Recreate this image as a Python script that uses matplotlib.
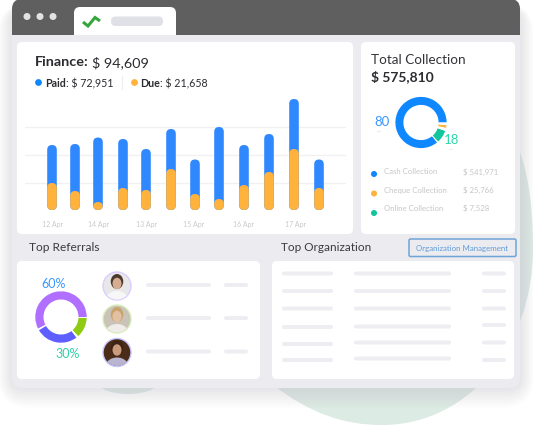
import matplotlib
matplotlib.use("Agg")
import matplotlib.pyplot as plt
from matplotlib.patches import FancyBboxPatch, Circle, PathPatch, Ellipse, Rectangle
from matplotlib.path import Path

plt.rcParams['font.family'] = ['Lato', 'DejaVu Sans']

W, H = 533, 427

# ---- data ----
bar_total = [65, 66, 72.5, 71, 61, 81, 50.5, 83, 65, 76, 111, 50.5]
bar_due = [27, 19, 8, 22, 20, 41, 16, 11, 25, 38, 61, 22]
tick_labels = ['12 Apr', '14 Apr', '13 Apr', '15 Apr', '16 Apr', '17 Apr']
collection_values = [309, 3, 29, 7, 6, 6]
referral_values = [207, 4, 96, 5, 46, 2]
collection_rows = ['Cash Collection', 'Cheque Collection', 'Online Collection']
collection_amounts = ['$ 541,971', '$ 25,766', '$ 7,528']

# ---- layout ----
bar_x = [52, 75, 98, 123, 146, 171, 195, 219, 244, 269, 294, 319]
tick_x = [53, 98.5, 147, 194, 244, 296]

BLUE = '#3088ff'
DBLUE = '#0f88ff'
ORANGE = '#ffb23c'
TEAL = '#12c59b'
DARK = '#2b2b30'

fig = plt.figure(figsize=(W / 100, H / 100), dpi=100, facecolor='white')
bg = fig.add_axes([0, 0, 1, 1])
bg.set_xlim(0, W)
bg.set_ylim(H, 0)
bg.axis('off')


def rrect(ax, x0, y0, x1, y1, r, fc, ec='none', lw=0, alpha=None, z=2):
    p = FancyBboxPatch((x0, y0), x1 - x0, y1 - y0,
                       boxstyle=f'round,pad=0,rounding_size={r}',
                       fc=fc, ec=ec, lw=lw, alpha=alpha, zorder=z)
    ax.add_patch(p)
    return p


# green blob behind window
V = [(272, 385), (310, 415), (345, 426), (382, 426),
     (470, 426), (533, 345), (533, 250),
     (533, 205), (528, 170), (515, 140), (272, 140), (272, 385)]
C = [Path.MOVETO] + [Path.CURVE4] * 9 + [Path.LINETO, Path.CLOSEPOLY]
bg.add_patch(PathPatch(Path(V, C), fc='#dcebe3', ec='none', zorder=0))
bg.add_patch(Ellipse((128, 380), 66, 30, fc='#dcebe3', ec='none', zorder=0))

# soft shadow
for i in range(12):
    g = 20 - i * 1.6
    rrect(bg, 12 - g * 0.7, 10 - g * 0.3, 520 + g * 0.7, 389 + g, 12 + g, '#8a8a9a', alpha=0.012, z=1)

# window
rrect(bg, 12, 0, 520, 389, 10, '#ecebf0', z=2)
rrect(bg, 12, 0, 520, 30, 10, '#5f5f5f', z=3)
bg.add_patch(Rectangle((12, 15), 508, 20.5, fc='#5f5f5f', ec='none', zorder=3))
for x in (27, 40, 53):
    bg.add_patch(Circle((x, 17.5), 3.5, fc='#e2e2e2', ec='none', zorder=4))

# tab
rrect(bg, 74, 8, 176, 30, 6, 'white', z=4)
bg.add_patch(Rectangle((74, 18), 102, 18, fc='white', ec='none', zorder=4))
bg.plot([83, 88, 95, 100], [23, 27, 18.5, 22], color='#37a63e', lw=2.2, zorder=5,
        solid_joinstyle='miter', solid_capstyle='butt')
rrect(bg, 111, 17.5, 163, 27, 4.5, '#e0e1e6', z=5)

# cards
rrect(bg, 17, 43, 353, 235, 5, 'white', z=4)
rrect(bg, 361, 43, 515, 235, 5, 'white', z=4)
rrect(bg, 17, 262, 260, 380, 5, 'white', z=4)
rrect(bg, 272, 262, 514, 380, 5, 'white', z=4)


def T(x, y, s, size, color=DARK, weight='normal', ha='left'):
    return bg.text(x, y, s, fontsize=size, color=color, fontweight=weight,
                   ha=ha, va='center', zorder=8)


# finance header
T(35, 62.5, 'Finance:', 10.4, weight='bold')
T(92, 62.5, '$ 94,609', 10.4)
bg.add_patch(Circle((38.5, 83.5), 3.4, fc=DBLUE, ec='none', zorder=8))
T(45, 83.5, 'Paid', 7.7, weight='bold')
T(66, 83.5, ': $ 72,951', 7.7)
bg.plot([121.5, 121.5], [77, 90], color='#eeeeee', lw=0.8, zorder=8)
bg.add_patch(Circle((134.5, 83.5), 3.4, fc=ORANGE, ec='none', zorder=8))
T(140, 83.5, 'Due', 7.7, weight='bold')
T(160, 83.5, ': $ 21,658', 7.7)

# bar chart: axes spans the card's plot area with 1 x unit = 1 px
x0, x1, ytop, ybot = 25, 346, 95, 211
ax = fig.add_axes([x0 / W, 1 - ybot / H, (x1 - x0) / W, (ybot - ytop) / H], facecolor='none', zorder=5)
ax.set_xlim(x0, x1)
ax.set_ylim(0, ybot - ytop)
ax.axis('off')
for g in (211 - 127.5, 211 - 156, 211 - 184):
    ax.axhline(g, color='#f1f1f4', lw=1, zorder=1)


def rounded_bars(heights, color, z):
    for rect in ax.bar(bar_x, heights, width=9.6, color=color, zorder=z):
        rect.set_visible(False)
        ax.add_patch(FancyBboxPatch((rect.get_x(), 0), rect.get_width(), rect.get_height(),
                                    boxstyle='round,pad=0,rounding_size=4.8',
                                    fc=color, ec='none', zorder=z))


rounded_bars(bar_total, BLUE, 3)
rounded_bars(bar_due, ORANGE, 4)
for x, s in zip(tick_x, tick_labels):
    T(x, 224.5, s, 5, color='#c9c9cc', ha='center')

# total collection
T(371, 59.5, 'Total Collection', 9.7, color='#333338')
T(371, 76.5, '$ 575,810', 10, weight='bold')


def donut(cx, cy, R, width, values, colors, start):
    a = fig.add_axes([(cx - R) / W, 1 - (cy + R) / H, 2 * R / W, 2 * R / H], zorder=6)
    a.pie(values, colors=colors, startangle=start, counterclock=True, radius=1,
          wedgeprops=dict(width=width / R, edgecolor='none'))
    a.set_xlim(-1, 1)
    a.set_ylim(-1, 1)
    a.axis('off')
    return a


donut(421, 123.5, 25.6, 8, collection_values,
      [DBLUE, 'white', TEAL, 'white', ORANGE, 'white'], 0)
T(382, 122, '80', 9.5, color='#3a97ff', ha='center')
T(452, 140, '18', 9.5, color='#2fd6ac', ha='center')
bg.plot([377, 380], [131.5, 131.5], color='#e6eefa', lw=0.8, zorder=8)
bg.plot([449, 452], [149.5, 149.5], color='#e4f5ef', lw=0.8, zorder=8)

ys_dots = [175, 194.5, 214]
ys_text = [172, 190.5, 208.5]
for yd, yt, c, s, v in zip(ys_dots, ys_text, [DBLUE, ORANGE, TEAL], collection_rows, collection_amounts):
    bg.add_patch(Circle((374, yd), 3, fc=c, ec='none', zorder=8))
    T(384, yt, s, 5.6, color='#c6c6c9')
    T(463, yt, v, 5.6, color='#c6c6c9')

# section titles + button
T(29, 248, 'Top Referrals', 8.6, color='#3a3a40')
T(281, 248, 'Top Organization', 8.5, color='#3a3a40')
rrect(bg, 409, 240, 516, 257.5, 1.5, '#ecebf0', ec='#6fa4d6', lw=1.1, z=6)
T(462.5, 249, 'Organization Management', 5.7, color='#5d9ddb', ha='center')

# referrals donut
donut(61, 318, 25.7, 8.2, referral_values,
      ['#b06fff', 'white', '#5f5fff', 'white', '#8fcb12', 'white'], 0)
T(53.5, 284, '60%', 9, color='#3a97ff', ha='center')
T(68, 354, '30%', 9, color='#2fd0a8', ha='center')

# avatars
avatars = [
    (287, '#dccdff', '#e9e8e8', '#d6ad90', '#4a3a30', '#f7f7f7'),
    (320, '#d8efbc', '#c9c3b8', '#e3c0a2', '#c8a46c', '#efecea'),
    (353.5, '#c6c6ff', '#4a2c18', '#c99b7c', '#3d2413', '#b9b4d0'),
]
for cy, ring, back, skin, hair, body in avatars:
    clip = Circle((117, cy), 13.5, transform=bg.transData)
    bg.add_patch(Circle((117, cy), 14, fc=back, ec=ring, lw=1, zorder=6))
    parts = [Ellipse((117, cy + 15), 24, 20, fc=body, ec='none', zorder=7),
             Ellipse((117, cy - 4.5), 12.5, 15, fc=hair, ec='none', zorder=7),
             Ellipse((117, cy - 2.5), 9, 11.5, fc=skin, ec='none', zorder=7)]
    for q in parts:
        bg.add_patch(q)
        q.set_clip_path(clip)

# skeleton lines
SK = '#eeeef2'
for y in (286, 319, 352.5):
    rrect(bg, 146, y - 2, 211, y + 2, 2, SK, z=6)
    rrect(bg, 224, y - 2, 248, y + 2, 2, SK, z=6)
for col, ys in (((282, 333), (274.5, 292, 309.5, 328, 345, 361)),
                ((354, 451), (274.5, 292, 309.5, 327.5, 343.5, 359.5)),
                ((482, 506), (274.5, 292, 309.5, 326, 343.5, 361))):
    for y in ys:
        rrect(bg, col[0], y - 2, col[1], y + 2, 2, SK, z=6)

fig.savefig('out.png', dpi=100, facecolor='white')
